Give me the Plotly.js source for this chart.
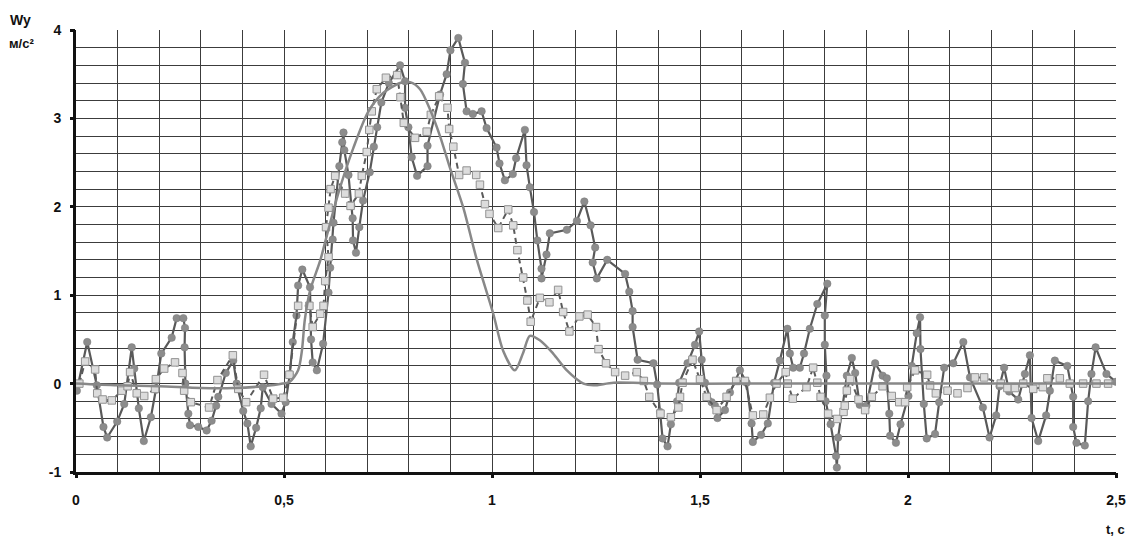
<!DOCTYPE html>
<html>
<head>
<meta charset="utf-8">
<script src="https://cdn.plot.ly/plotly-3.0.1.min.js"></script>
<style>html,body{margin:0;padding:0;background:#fff;}#chart{width:1129px;height:537px;}</style>
</head>
<body>
<div id="chart"></div>
<script>
// Measured acceleration (circles)
const tRaw = [0.002,0.027,0.05,0.066,0.075,0.099,0.116,0.134,0.14,0.151,0.163,0.18,0.192,0.205,0.23,0.242,0.258,0.262,0.261,0.263,0.27,0.274,0.294,0.314,0.326,0.337,0.342,0.36,0.378,0.386,0.402,0.412,0.42,0.433,0.444,0.449,0.47,0.494,0.504,0.514,0.521,0.53,0.534,0.544,0.5625,0.565,0.569,0.579,0.594,0.607,0.611,0.617,0.619,0.633,0.64,0.643,0.645,0.655,0.662,0.665,0.666,0.673,0.681,0.69,0.706,0.716,0.724,0.734,0.752,0.779,0.791,0.791,0.799,0.807,0.82,0.845,0.845,0.875,0.891,0.9,0.919,0.935,0.93,0.939,0.954,0.975,0.987,1.011,1.018,1.031,1.05,1.058,1.079,1.083,1.091,1.101,1.109,1.119,1.119,1.131,1.139,1.18,1.204,1.222,1.237,1.248,1.242,1.252,1.277,1.32,1.33,1.338,1.338,1.35,1.388,1.397,1.404,1.41,1.422,1.43,1.445,1.45,1.47,1.488,1.498,1.504,1.512,1.528,1.536,1.542,1.56,1.572,1.596,1.612,1.624,1.627,1.647,1.663,1.678,1.692,1.71,1.716,1.724,1.74,1.75,1.764,1.782,1.806,1.8,1.8,1.804,1.802,1.814,1.827,1.829,1.832,1.853,1.865,1.873,1.884,1.9,1.921,1.939,1.949,1.955,1.957,1.971,1.982,2.001,2.009,2.021,2.029,2.03,2.038,2.045,2.065,2.075,2.087,2.109,2.133,2.149,2.18,2.196,2.212,2.22,2.231,2.243,2.265,2.281,2.293,2.297,2.313,2.332,2.341,2.353,2.383,2.397,2.397,2.405,2.425,2.433,2.441,2.451,2.477,2.5];
const wRaw = [-0.08,0.47,-0.02,-0.49,-0.61,-0.43,-0.23,0.41,0.17,-0.28,-0.65,-0.38,-0.07,0.34,0.52,0.74,0.74,0.63,0.41,0.0,-0.34,-0.47,-0.49,-0.53,-0.42,-0.25,-0.15,0.12,0.26,0.0,-0.31,-0.45,-0.71,-0.5,-0.28,-0.04,-0.23,-0.34,-0.21,0.11,0.47,0.77,1.11,1.29,1.09,0.5,0.24,0.15,0.45,1.03,1.31,1.63,1.82,2.46,2.73,2.84,2.64,2.36,2.01,1.87,1.62,1.48,1.77,2.07,2.39,2.68,2.9,3.18,3.4,3.6,3.42,3.12,2.9,2.56,2.35,2.46,2.69,3.27,3.5,3.77,3.91,3.63,3.39,3.08,3.05,3.08,2.89,2.67,2.49,2.3,2.37,2.55,2.87,2.47,2.22,1.94,1.62,1.3,1.19,1.46,1.7,1.74,1.84,2.06,1.79,1.54,1.37,1.19,1.4,1.24,1.04,0.82,0.64,0.27,0.23,-0.01,-0.32,-0.62,-0.71,-0.46,-0.2,0.01,0.23,0.44,0.59,0.27,0.01,-0.21,-0.25,-0.39,-0.3,-0.1,0.15,0.01,-0.45,-0.66,-0.58,-0.45,0.01,0.26,0.62,0.34,0.18,0.18,0.34,0.62,0.9,1.13,0.77,0.44,0.09,-0.2,-0.46,-0.82,-0.95,-0.61,0.09,0.29,0.12,-0.24,-0.25,0.23,0.09,0.06,-0.34,-0.59,-0.67,-0.46,-0.14,0.2,0.57,0.75,0.39,-0.23,-0.62,-0.57,-0.21,0.18,0.23,0.47,0.07,-0.27,-0.61,-0.36,-0.03,0.18,-0.09,-0.18,0.11,0.32,-0.39,-0.65,-0.36,-0.08,0.26,0.2,-0.15,-0.49,-0.67,-0.7,-0.2,0.11,0.41,0.11,0.02];

// Filtered acceleration (squares)
const tFilt = [0.008,0.022,0.046,0.051,0.064,0.086,0.11,0.124,0.13,0.146,0.164,0.19,0.192,0.212,0.238,0.256,0.26,0.276,0.32,0.34,0.377,0.39,0.409,0.452,0.474,0.498,0.513,0.534,0.561,0.569,0.587,0.595,0.599,0.607,0.601,0.607,0.612,0.623,0.647,0.66,0.68,0.687,0.699,0.705,0.711,0.723,0.745,0.772,0.78,0.788,0.815,0.843,0.853,0.873,0.893,0.897,0.907,0.921,0.939,0.962,0.971,0.983,0.994,1.015,1.039,1.051,1.061,1.075,1.085,1.093,1.115,1.138,1.159,1.171,1.186,1.21,1.23,1.25,1.256,1.274,1.296,1.32,1.348,1.365,1.378,1.405,1.43,1.448,1.452,1.458,1.482,1.5,1.516,1.54,1.564,1.587,1.608,1.627,1.652,1.668,1.684,1.706,1.711,1.723,1.756,1.772,1.782,1.79,1.808,1.83,1.845,1.848,1.853,1.861,1.881,1.897,1.913,1.939,1.961,1.979,1.993,1.998,2.017,2.046,2.053,2.067,2.095,2.119,2.143,2.161,2.183,2.223,2.239,2.257,2.277,2.301,2.324,2.335,2.365,2.389,2.421,2.453,2.481];
const wFilt = [0.0,0.25,0.16,-0.11,-0.18,-0.19,-0.08,-0.03,0.13,-0.11,-0.14,-0.06,0.05,0.17,0.24,0.12,-0.08,-0.21,-0.27,0.04,0.32,-0.06,-0.21,0.1,-0.17,-0.16,0.1,0.88,0.88,0.64,0.79,0.88,1.16,1.43,1.77,1.99,2.2,2.35,2.15,2.01,2.15,2.35,2.62,2.87,3.08,3.33,3.46,3.49,3.24,2.95,2.78,2.85,3.04,3.25,3.12,2.88,2.68,2.36,2.41,2.36,2.25,2.03,1.92,1.76,1.97,1.79,1.51,1.2,0.94,0.7,0.97,0.92,1.06,0.81,0.59,0.76,0.78,0.64,0.39,0.23,0.13,0.09,0.13,0.03,-0.15,-0.34,-0.38,-0.27,-0.15,0.01,0.27,0.05,-0.15,-0.3,-0.15,0.03,0.03,-0.36,-0.35,-0.16,0.0,0.13,0.0,-0.17,-0.04,0.18,0.01,-0.15,-0.34,-0.4,-0.32,-0.25,-0.08,0.05,-0.18,-0.3,-0.15,-0.03,-0.14,-0.21,-0.21,-0.04,0.15,0.1,-0.02,-0.11,-0.08,-0.11,-0.05,0.07,0.07,0.0,-0.05,-0.05,0.0,-0.06,-0.04,0.06,0.06,0.0,0.0,0.0,0.0];

// Model curve (smooth line)
const tModel = [0,0.1,0.2,0.3,0.38,0.45,0.497,0.514,0.534,0.543,0.55,0.5625,0.587,0.6,0.631,0.667,0.703,0.739,0.779,0.803,0.827,0.851,0.875,0.899,0.931,0.963,1.003,1.027,1.055,1.075,1.091,1.115,1.147,1.18,1.22,1.244,1.292,1.4,1.6,1.8,2.0,2.2,2.5];
const wModel = [0,-0.02,-0.03,-0.05,-0.05,-0.03,0.0,0.02,0.15,0.37,0.72,1.05,1.39,1.62,2.16,2.67,3.08,3.29,3.4,3.41,3.33,3.1,2.8,2.44,1.99,1.41,0.79,0.37,0.15,0.35,0.54,0.49,0.34,0.15,0.0,-0.02,0.01,0.0,0.0,0.0,0.0,0.0,0.0];

// Labelled ticks
const xTickVals = [0,0.5,1,1.5,2,2.5];
const xTickText = ['0','0,5','1','1,5','2','2,5'];
const yTickVals = [-1,0,1,2,3,4];
const yTickText = ['-1','0','1','2','3','4'];

// Grid positions (no grid line on the far right and top edges)
const xGridVals = [];
for (let k = 0; k < 25; k++) xGridVals.push(+(k * 0.1).toFixed(2));
const yGridVals = [];
for (let k = 0; k < 25; k++) yGridVals.push(+(-1 + k * 0.2).toFixed(2));

const FONT = 'Liberation Sans, Arial, sans-serif';
const GRID = '#3c3c3c';
const X_RANGE = [0, 2.5];
const Y_RANGE = [-1, 4];

const traces = [
  {x: tRaw, y: wRaw, type: 'scatter', mode: 'lines+markers', xaxis: 'x', yaxis: 'y',
   line: {color: '#595959', width: 2.2},
   marker: {symbol: 'circle', size: 7.5, color: '#8c8c8c', line: {color: '#7a7a7a', width: 0.5}},
   hoverinfo: 'skip'},
  {x: tFilt, y: wFilt, type: 'scatter', mode: 'lines+markers', xaxis: 'x', yaxis: 'y',
   line: {color: '#5a5a5a', width: 2, dash: '6px,4px'},
   marker: {symbol: 'square', size: 7.5, color: '#dcdcdc', line: {color: '#929292', width: 1}},
   hoverinfo: 'skip'},
  {x: tModel, y: wModel, type: 'scatter', mode: 'lines', xaxis: 'x2', yaxis: 'y2',
   line: {color: '#888888', width: 2.5, shape: 'spline', smoothing: 0.8},
   hoverinfo: 'skip'}
];

const tickFont = {family: FONT, size: 14, weight: 'bold', color: '#111'};

const layout = {
  width: 1129, height: 537,
  margin: {l: 76, r: 13, t: 29.5, b: 65},
  paper_bgcolor: '#ffffff', plot_bgcolor: '#ffffff',
  showlegend: false,
  separators: ', ',
  font: {family: FONT, color: '#111'},
  // grid axes
  xaxis: {
    range: X_RANGE, tickmode: 'array', tickvals: xGridVals, showticklabels: false, ticks: '',
    showgrid: true, gridcolor: GRID, gridwidth: 1,
    zeroline: false, showline: true, linecolor: '#111', linewidth: 3
  },
  yaxis: {
    range: Y_RANGE, tickmode: 'array', tickvals: yGridVals, showticklabels: false, ticks: '',
    showgrid: true, gridcolor: GRID, gridwidth: 1,
    zeroline: false, showline: true, linecolor: '#111', linewidth: 3
  },
  // labelled axes
  xaxis2: {
    overlaying: 'x', anchor: 'y2', side: 'bottom', range: X_RANGE,
    tickmode: 'array', tickvals: xTickVals, ticktext: xTickText,
    showgrid: false, zeroline: false, showline: false,
    ticks: 'outside', ticklen: 5, tickwidth: 3, tickcolor: '#111',
    ticklabelstandoff: 10, tickfont: tickFont
  },
  yaxis2: {
    overlaying: 'y', anchor: 'x2', side: 'left', range: Y_RANGE,
    tickmode: 'array', tickvals: yTickVals, ticktext: yTickText,
    showgrid: false, zeroline: false, showline: false,
    ticks: 'outside', ticklen: 5, tickwidth: 3, tickcolor: '#111',
    ticklabelstandoff: 6, tickfont: tickFont
  },
  annotations: [
    {text: 'Wy', xref: 'paper', yref: 'paper', x: -0.0654, y: 1.0215, xanchor: 'left', yanchor: 'middle', showarrow: false, font: {family: FONT, size: 14, weight: 'bold', color: '#111'}},
    {text: 'м/с²', xref: 'paper', yref: 'paper', x: -0.0664, y: 0.9695, xanchor: 'left', yanchor: 'middle', showarrow: false, font: {family: FONT, size: 13, weight: 'bold', color: '#111'}},
    {text: 't, c', xref: 'paper', yref: 'paper', x: 1.0106, y: -0.131, xanchor: 'right', yanchor: 'middle', showarrow: false, font: {family: FONT, size: 13, weight: 'bold', color: '#111'}}
  ]
};

Plotly.newPlot('chart', traces, layout, {staticPlot: true, displayModeBar: false});
</script>
</body>
</html>
